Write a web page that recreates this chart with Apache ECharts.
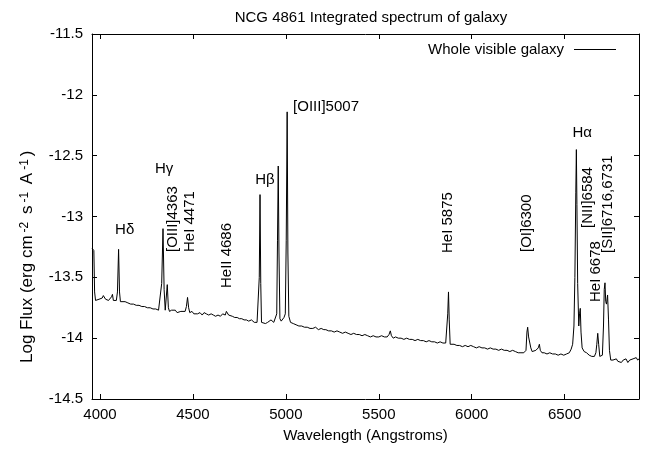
<!DOCTYPE html>
<html>
<head>
<meta charset="utf-8">
<script src="https://cdn.jsdelivr.net/npm/echarts@6/dist/echarts.min.js"></script>
<style>html,body{margin:0;padding:0;background:#fff;}#c{width:648px;height:449px;}</style>
</head>
<body>
<div id="c"></div>
<script>
// ---- data ----
const wavelengths = [3957,3962,3967,3971,3976,3985,3995,4005,4012,4018,4024,4030,4038,4046,4055,4062,4067,4072,4080,4088,4094,4100,4105,4110,4120,4135,4150,4165,4180,4195,4210,4225,4240,4255,4270,4285,4300,4315,4325,4332,4339,4345,4351,4356,4362,4368,4374,4385,4395,4405,4415,4425,4435,4445,4458,4465,4471,4477,4483,4495,4505,4515,4525,4538,4550,4560,4572,4585,4598,4610,4622,4635,4648,4660,4668,4674,4680,4686,4692,4700,4712,4725,4738,4750,4763,4775,4788,4800,4815,4830,4845,4853,4857,4861,4865,4869,4878,4890,4902,4912,4920,4927,4935,4945,4951,4955,4959,4963,4968,4975,4982,4990,4997,5002,5007,5011,5016,5025,5040,5055,5070,5085,5100,5115,5130,5145,5160,5175,5190,5197,5204,5215,5230,5245,5260,5275,5290,5305,5320,5335,5350,5365,5380,5395,5410,5425,5440,5455,5470,5485,5500,5515,5530,5545,5555,5562,5568,5578,5590,5605,5620,5635,5650,5665,5680,5695,5710,5725,5740,5755,5770,5785,5800,5815,5830,5845,5860,5868,5871,5875,5879,5884,5892,5905,5920,5935,5950,5965,5980,5995,6010,6025,6040,6055,6070,6085,6100,6115,6130,6145,6160,6175,6190,6205,6220,6235,6250,6265,6280,6292,6297,6301,6306,6312,6318,6325,6335,6345,6352,6358,6364,6369,6378,6390,6405,6420,6435,6450,6465,6480,6495,6510,6525,6535,6543,6550,6555,6560,6563,6566,6570,6576,6580,6584,6588,6594,6605,6618,6632,6646,6660,6668,6673,6678,6683,6689,6697,6703,6709,6713,6717,6721,6725,6731,6736,6741,6748,6760,6770,6778,6786,6795,6805,6815,6822,6830,6840,6850,6860,6868,6876,6885,6893,6900];
const logFlux = [-13.26,-13.25,-13.28,-13.62,-13.69,-13.69,-13.68,-13.69,-13.67,-13.65,-13.66,-13.68,-13.67,-13.69,-13.68,-13.66,-13.64,-13.69,-13.70,-13.69,-13.62,-13.27,-13.62,-13.70,-13.71,-13.70,-13.71,-13.72,-13.72,-13.73,-13.73,-13.74,-13.74,-13.75,-13.75,-13.76,-13.76,-13.77,-13.76,-13.55,-13.10,-13.60,-13.77,-13.76,-13.56,-13.75,-13.78,-13.77,-13.78,-13.77,-13.79,-13.78,-13.78,-13.79,-13.78,-13.74,-13.665,-13.75,-13.79,-13.78,-13.80,-13.79,-13.80,-13.79,-13.81,-13.79,-13.80,-13.81,-13.80,-13.81,-13.82,-13.81,-13.82,-13.80,-13.79,-13.81,-13.78,-13.79,-13.81,-13.81,-13.82,-13.83,-13.83,-13.84,-13.84,-13.85,-13.85,-13.86,-13.85,-13.87,-13.87,-13.86,-13.50,-12.82,-13.55,-13.87,-13.88,-13.88,-13.87,-13.87,-13.85,-13.86,-13.87,-13.86,-13.80,-13.20,-12.585,-13.30,-13.84,-13.86,-13.85,-13.83,-13.80,-13.20,-12.14,-13.30,-13.82,-13.87,-13.88,-13.89,-13.90,-13.90,-13.91,-13.91,-13.92,-13.92,-13.91,-13.93,-13.92,-13.905,-13.93,-13.93,-13.94,-13.94,-13.95,-13.94,-13.95,-13.96,-13.95,-13.96,-13.97,-13.96,-13.97,-13.97,-13.98,-13.97,-13.98,-13.99,-13.98,-13.99,-13.99,-13.98,-13.99,-13.99,-13.97,-13.94,-13.98,-14.00,-13.99,-14.00,-14.00,-14.01,-14.00,-14.01,-14.01,-14.02,-14.01,-14.02,-14.02,-14.03,-14.02,-14.03,-14.03,-14.04,-14.03,-14.04,-14.04,-14.03,-13.80,-13.62,-13.85,-14.05,-14.06,-14.05,-14.06,-14.06,-14.07,-14.06,-14.07,-14.06,-14.07,-14.08,-14.07,-14.08,-14.08,-14.09,-14.08,-14.09,-14.09,-14.10,-14.09,-14.10,-14.10,-14.11,-14.10,-14.11,-14.12,-14.12,-14.12,-14.10,-13.95,-13.91,-13.99,-14.00,-14.08,-14.11,-14.11,-14.10,-14.11,-14.08,-14.05,-14.10,-14.12,-14.12,-14.13,-14.12,-14.13,-14.13,-14.14,-14.13,-14.14,-14.13,-14.12,-14.09,-14.05,-13.90,-13.50,-12.80,-12.45,-12.90,-13.55,-13.90,-13.80,-13.755,-13.95,-14.08,-14.11,-14.12,-14.14,-14.15,-14.15,-14.12,-14.05,-13.96,-14.05,-14.15,-14.165,-14.14,-13.90,-13.60,-13.545,-13.70,-13.72,-13.645,-13.85,-14.10,-14.18,-14.18,-14.19,-14.17,-14.19,-14.18,-14.20,-14.18,-14.19,-14.17,-14.20,-14.18,-14.19,-14.17,-14.18,-14.16,-14.18,-14.17];
const xTickValues = [4000, 4500, 5000, 5500, 6000, 6500];
const seriesName = 'Whole visible galaxy';
// line identifications (text, wavelength, log flux anchor, vertical?)
const lineNames = ['H\u03b4','H\u03b3','[OIII]4363','HeI 4471','HeII 4686','H\u03b2','[OIII]5007','HeI 5875','[OI]6300','H\u03b1','[NII]6584','HeI 6678','[SII]6716,6731'];
const lineNameWl = [4081,4296,4393,4485,4684,4835,5039,5871,6299,6542,6623,6666,6730];
const lineNameFlux = [-13.111,-12.61,-13.292,-13.292,-13.588,-12.70,-12.10,-13.30,-13.292,-12.314,-13.094,-13.703,-13.30];
const lineNameVertical = [false,false,true,true,true,false,false,true,true,false,true,true,true];

const FONT = 'Liberation Sans';
const chart = echarts.init(document.getElementById('c'), null, {renderer: 'canvas'});

const spectrum = wavelengths.map((w, i) => [w, logFlux[i]]);
const annot = lineNames.map((t, i) => ({
  name: t,
  value: [lineNameWl[i], lineNameFlux[i]],
  label: {rotate: lineNameVertical[i] ? 90 : 0}
}));

const axisCommon = {
  axisLine: {show: true, lineStyle: {color: '#000', width: 1}},
  axisTick: {show: true, inside: true, length: 5, lineStyle: {color: '#000', width: 1}},
  splitLine: {show: false}
};

chart.setOption({
  animation: false,
  backgroundColor: '#fff',
  textStyle: {fontFamily: FONT},
  title: {
    text: 'NCG 4861 Integrated spectrum of galaxy',
    left: 366, top: 5, textAlign: 'center',
    textStyle: {fontFamily: FONT, fontSize: 15, fontWeight: 'normal', color: '#000'}
  },
  legend: {
    data: [{name: seriesName, icon: 'rect'}],
    right: 27, top: 37,
    align: 'right',
    itemWidth: 42, itemHeight: 1, itemGap: 0,
    itemStyle: {color: '#000', borderWidth: 0},
    textStyle: {fontFamily: FONT, fontSize: 15, color: '#000', padding: [0, 5, 0, 0]}
  },
  grid: {left: 92, right: 9, top: 34, bottom: 50, show: false},
  xAxis: [
    Object.assign({}, axisCommon, {
      type: 'value', min: 3957, max: 6900, position: 'bottom',
      axisTick: Object.assign({}, axisCommon.axisTick, {customValues: xTickValues}),
      axisLabel: {customValues: xTickValues, color: '#000', fontSize: 15, fontFamily: FONT, margin: 8,
        formatter: v => String(v)},
      name: 'Wavelength (Angstroms)', nameLocation: 'middle', nameGap: 29,
      nameTextStyle: {color: '#000', fontSize: 15, fontFamily: FONT}
    }),
    Object.assign({}, axisCommon, {
      type: 'value', min: 3957, max: 6900, position: 'top',
      axisTick: Object.assign({}, axisCommon.axisTick, {customValues: xTickValues}),
      axisLabel: {show: false}
    })
  ],
  yAxis: [
    Object.assign({}, axisCommon, {
      type: 'value', min: -14.5, max: -11.5, interval: 0.5, position: 'left',
      axisLabel: {color: '#000', fontSize: 15, fontFamily: FONT, margin: 9, formatter: v => String(v)}
    }),
    Object.assign({}, axisCommon, {
      type: 'value', min: -14.5, max: -11.5, interval: 0.5, position: 'right',
      axisLabel: {show: false}
    })
  ],
  graphic: [{
    type: 'text',
    x: 27, y: 363,
    rotation: Math.PI / 2,
    style: {
      text: 'Log Flux (erg cm{sup|-2} s{sup|-1} A{sup|-1})',
      font: '17px "Liberation Sans"',
      fill: '#000',
      align: 'left', verticalAlign: 'middle',
      rich: {
        sup: {fontSize: 12, fontFamily: FONT, fill: '#000', verticalAlign: 'top', lineHeight: 10, padding: [0, 3, 9, 3]}
      }
    }
  }],
  series: [
    {
      name: seriesName, type: 'line', data: spectrum,
      xAxisIndex: 0, yAxisIndex: 0,
      showSymbol: false, symbol: 'none',
      lineStyle: {color: '#000', width: 1},
      itemStyle: {color: '#000'},
      silent: true
    },
    {
      name: 'labels', type: 'scatter', data: annot,
      xAxisIndex: 0, yAxisIndex: 0,
      symbolSize: 0, silent: true,
      itemStyle: {opacity: 1},
      label: {
        show: true, position: 'inside', align: 'left', verticalAlign: 'middle',
        formatter: p => p.name, color: '#000', opacity: 1, fontSize: 15, fontFamily: FONT
      }
    }
  ]
});
</script>
</body>
</html>
